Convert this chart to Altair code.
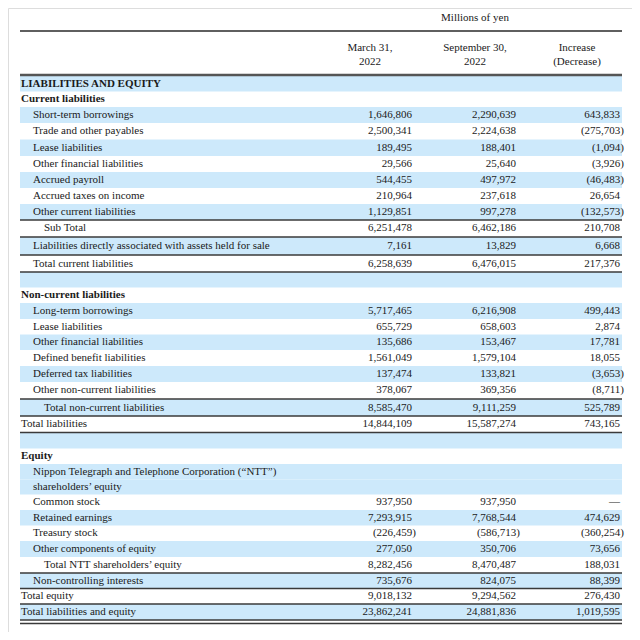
import altair as alt
import pandas as pd

# ---- data ----
labels = [
    "LIABILITIES AND EQUITY",
    "Current liabilities",
    "Short-term borrowings",
    "Trade and other payables",
    "Lease liabilities",
    "Other financial liabilities",
    "Accrued payroll",
    "Accrued taxes on income",
    "Other current liabilities",
    "Sub Total",
    "Liabilities directly associated with assets held for sale",
    "Total current liabilities",
    "",
    "Non-current liabilities",
    "Long-term borrowings",
    "Lease liabilities",
    "Other financial liabilities",
    "Defined benefit liabilities",
    "Deferred tax liabilities",
    "Other non-current liabilities",
    "Total non-current liabilities",
    "Total liabilities",
    "",
    "Equity",
    "Nippon Telegraph and Telephone Corporation (\u201cNTT\u201d)",
    "shareholders\u2019 equity",
    "Common stock",
    "Retained earnings",
    "Treasury stock",
    "Other components of equity",
    "Total NTT shareholders\u2019 equity",
    "Non-controlling interests",
    "Total equity",
    "Total liabilities and equity",
]
# hierarchy level of each row (0 = flush left, 1 = item, 2 = subtotal)
levels = [0, 0, 1, 1, 1, 1, 1, 1, 1, 2, 1, 1, 0, 0, 1, 1, 1, 1, 1, 1, 2, 0, 0, 0,
          1, 1, 1, 1, 1, 1, 2, 1, 0, 0]
section_heads = ["LIABILITIES AND EQUITY", "Current liabilities",
                 "Non-current liabilities", "Equity"]
march_2022 = [None, None, 1646806, 2500341, 189495, 29566, 544455, 210964, 1129851,
              6251478, 7161, 6258639, None, None, 5717465, 655729, 135686, 1561049,
              137474, 378067, 8585470, 14844109, None, None, None, None, 937950,
              7293915, -226459, 277050, 8282456, 735676, 9018132, 23862241]
sept_2022 = [None, None, 2290639, 2224638, 188401, 25640, 497972, 237618, 997278,
             6462186, 13829, 6476015, None, None, 6216908, 658603, 153467, 1579104,
             133821, 369356, 9111259, 15587274, None, None, None, None, 937950,
             7768544, -586713, 350706, 8470487, 824075, 9294562, 24881836]
change = [None, None, 643833, -275703, -1094, -3926, -46483, 26654, -132573,
          210708, 6668, 217376, None, None, 499443, 2874, 17781, 18055, -3653,
          -8711, 525789, 743165, None, None, None, None, 0, 474629, -360254,
          73656, 188031, 88399, 276430, 1019595]
shaded = [1, 0, 1, 0, 1, 0, 1, 0, 1, 0, 1, 0, 1, 0, 1, 0, 1, 0, 1, 0, 1, 0, 1, 0,
          1, 1, 0, 1, 0, 1, 0, 1, 0, 1]
rule_after = [8, 9, 10, 11, 19, 20, 21, 30, 31, 32, 33]
col_titles = [["March 31,", "2022"], ["September 30,", "2022"], ["Increase", "(Decrease)"]]
unit_title = "Millions of yen"


def fmt(v):
    if v is None:
        return ""
    if v == 0:
        return "\u2014"
    if v < 0:
        return f"({abs(v):,})"
    return f"{v:,}"


# ---- layout (pixel geometry of the table) ----
W, H = 624, 624
FIRST_ROW = 76.0
ROW_GAPS = [15, 16, 16, 17, 16, 16, 16, 16, 16, 18, 18, 16, 15, 16, 16, 15, 16, 16,
            16, 18, 16, 17, 15, 16, 15, 15, 16, 15, 16, 16, 16, 15, 16]
centers = [FIRST_ROW]
for g in ROW_GAPS:
    centers.append(centers[-1] + g)
tops = [centers[0] - 8] + [(centers[i - 1] + centers[i]) / 2 for i in range(1, len(centers))]
bottoms = tops[1:] + [centers[-1] + 8]

n = len(labels)
df = pd.DataFrame({
    "ypos": centers,
    "ytop": tops,
    "ybot": bottoms,
    "label": labels,
    "level": levels,
    "head": [l in section_heads for l in labels],
    "shade": shaded,
    "c0": [fmt(v) for v in march_2022],
    "c1": [fmt(v) for v in sept_2022],
    "c2": [fmt(v) for v in change],
    "n0": [(v is not None and v < 0) for v in march_2022],
    "n1": [(v is not None and v < 0) for v in sept_2022],
    "n2": [(v is not None and v < 0) for v in change],
})

yscale = alt.Scale(domain=[0, H], reverse=True, nice=False, zero=False)
XL, XR = 12, 614
INDENT = [13, 25, 36]
COLR = [404, 508, 612]
COLC = [362, 467, 569]
FONT = "Liberation Serif"
FS = 11
TXT = "#1a1a1a"
BLUE = "#cde9fb"
LINE = "#3a3a3a"

base = alt.Chart(df)


def Y(f):
    return alt.Y(f, type="quantitative", scale=yscale, axis=None)


shade = base.transform_filter("datum.shade == 1").mark_rect(color=BLUE).encode(
    x=alt.value(XL), x2=alt.value(XR), y=Y("ytop"), y2=alt.Y2("ybot")
)

rules_df = pd.DataFrame({"pos": [bottoms[r] for r in rule_after]})
rules = alt.Chart(rules_df).mark_rule(color=LINE, strokeWidth=1.6).encode(
    x=alt.value(XL), x2=alt.value(XR), y=Y("pos")
)
dbl = alt.Chart(pd.DataFrame({"pos": [bottoms[-1] + 3.5]})).mark_rule(
    color=LINE, strokeWidth=1.6).encode(x=alt.value(XL), x2=alt.value(XR), y=Y("pos"))

head_rules = alt.Chart(pd.DataFrame({"pos": [23]})).mark_rule(
    color="#2a2a2a", strokeWidth=1.4).encode(x=alt.value(XL), x2=alt.value(XR), y=Y("pos"))
thick_rule = alt.Chart(pd.DataFrame({"pos": [67]})).mark_rule(
    color="#555555", strokeWidth=2.6).encode(x=alt.value(XL), x2=alt.value(XR), y=Y("pos"))

layers = [shade, rules, dbl, head_rules, thick_rule]

# header texts
hdr = [{"t": unit_title, "c": COLC[1], "y": 9.5}]
for i, (a, b) in enumerate(col_titles):
    hdr.append({"t": a, "c": COLC[i], "y": 39.5})
    hdr.append({"t": b, "c": COLC[i], "y": 53.5})
hdf = pd.DataFrame(hdr)
for c in sorted(set(hdf["c"])):
    layers.append(
        alt.Chart(hdf[hdf["c"] == c]).mark_text(
            font=FONT, fontSize=FS, color=TXT, align="center", baseline="middle"
        ).encode(x=alt.value(c), y=Y("y"), text="t:N")
    )

# row labels
for lv in range(3):
    layers.append(
        base.transform_filter(f"datum.level == {lv} && !datum.head && datum.label != ''")
        .mark_text(font=FONT, fontSize=FS, color=TXT, align="left", baseline="middle")
        .encode(x=alt.value(INDENT[lv]), y=Y("ypos"), text="label:N")
    )
layers.append(
    base.transform_filter("datum.head")
    .mark_text(font=FONT, fontSize=FS, fontWeight="bold", color=TXT, align="left",
               baseline="middle")
    .encode(x=alt.value(INDENT[0]), y=Y("ypos"), text="label:N")
)

# numbers (parentheses hang to the right)
for i in range(3):
    for neg in (False, True):
        cond = f"datum.c{i} != '' && {'datum.n' + str(i) if neg else '!datum.n' + str(i)}"
        layers.append(
            base.transform_filter(cond)
            .mark_text(font=FONT, fontSize=FS, color=TXT, align="right", baseline="middle",
                       dx=4 if neg else 0)
            .encode(x=alt.value(COLR[i]), y=Y("ypos"), text=f"c{i}:N")
        )

chart = alt.layer(*layers).properties(
    width=W, height=H, padding=0, autosize=alt.AutoSizeParams(type="none")
).configure_view(stroke=None).configure(background="white")

chart.save("out.html", embed_options={"renderer": "svg", "actions": False})
